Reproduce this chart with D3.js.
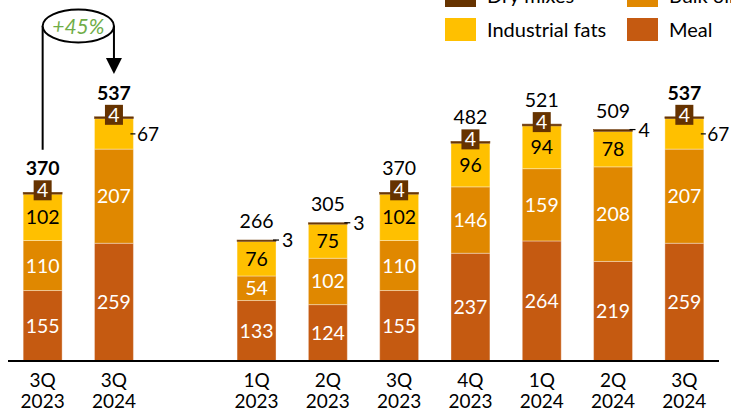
<!DOCTYPE html>
<html><head><meta charset="utf-8">
<script src="https://cdn.jsdelivr.net/npm/d3@7"></script>
<style>body{margin:0;background:#fff}svg{display:block;font-family:Lato,"Open Sans",sans-serif}</style>
</head><body><svg id="c" width="731" height="411"></svg>
<script>
// ---- data ----
const slots = ["a","b","gap","c","d","e","f","g","h","i"];
const quarters = ["3Q","3Q",null,"1Q","2Q","3Q","4Q","1Q","2Q","3Q"];
const years = ["2023","2024",null,"2023","2023","2023","2023","2024","2024","2024"];
const meal = [155,259,null,133,124,155,237,264,219,259];
const bulkOil = [110,207,null,54,102,110,146,159,208,207];
const industrialFats = [102,67,null,76,75,102,96,94,78,67];
const dryMixes = [4,4,null,3,3,4,4,4,4,4];
const totals = [370,537,null,266,305,370,482,521,509,537];
const boldTotal = [true,true,false,false,false,false,false,false,false,true];
const dryLabelBoxed = [true,true,false,false,false,true,true,true,false,true];
const fatsLabelOutside = [false,true,false,false,false,false,false,false,false,true];
const seriesNames = ["Meal","Bulk oil","Industrial fats","Dry mixes"];
const seriesColors = ["#C55A11","#E08800","#FFC000","#663300"];
const legendOrder = ["Dry mixes","Bulk oil","Industrial fats","Meal"];
const growthLabel = "+45%";

const VF = 19.5; // value font size
const svg = d3.select("#c");
const x = d3.scaleBand().domain(slots).range([7, 720]).paddingInner(0.454).paddingOuter(0.227);
const y = d3.scaleLinear().domain([0, 600]).range([361, 361 - 600 * 0.4547]);
const bw = x.bandwidth();

const rows = slots.map((s, i) => ({slot: s, i, vals: [meal[i], bulkOil[i], industrialFats[i], dryMixes[i]]}))
  .filter(r => r.vals[0] != null);

const g = svg.append("g");
rows.forEach(r => {
  let acc = 0;
  r.vals.forEach((v, k) => {
    const y0 = y(acc), y1 = y(acc + v);
    r["y" + k] = [y1, y0];
    g.append("rect")
      .attr("x", x(r.slot)).attr("width", bw)
      .attr("y", y1).attr("height", y0 - y1)
      .attr("fill", seriesColors[k])
      .attr("stroke", k === 3 ? "#7a4a1e" : "rgba(255,255,255,0.35)")
      .attr("stroke-width", k === 3 ? 0.6 : 1);
    acc += v;
  });
  r.top = y(acc);
});

// segment labels
const off = VF * 0.36;
const lbl = svg.append("g").attr("font-size", VF).attr("text-anchor", "middle");
rows.forEach(r => {
  const cx = x(r.slot) + bw / 2;
  const right = x(r.slot) + bw;
  [0, 1].forEach(k => {
    const [a, b] = r["y" + k];
    lbl.append("text").attr("x", cx).attr("y", (a + b) / 2 + off).attr("fill", "#fff").text(r.vals[k]);
  });
  // industrial fats
  const [fa, fb] = r.y2;
  if (fatsLabelOutside[r.i]) {
    const cy = (fa + fb) / 2;
    lbl.append("line").attr("x1", right - 3).attr("x2", right + 2).attr("y1", cy).attr("y2", cy).attr("stroke", "#000").attr("stroke-width", 1.2);
    lbl.append("text").attr("x", right + 3.5).attr("y", cy + off).attr("text-anchor", "start")
      .attr("font-size", 19).attr("fill", "#000").text(r.vals[2]);
  } else {
    lbl.append("text").attr("x", cx).attr("y", (fa + fb) / 2 + off).attr("fill", "#000").text(r.vals[2]);
  }
  // dry mixes
  if (dryLabelBoxed[r.i]) {
    lbl.append("rect").attr("x", cx - 9).attr("y", r.top - 12).attr("width", 18).attr("height", 20).attr("fill", seriesColors[3]);
    lbl.append("text").attr("x", cx).attr("y", r.top - 2 + off).attr("fill", "#fff").text(r.vals[3]);
  } else {
    lbl.append("line").attr("x1", right - 3).attr("x2", right + 3).attr("y1", r.top).attr("y2", r.top).attr("stroke", "#000").attr("stroke-width", 1.2);
    lbl.append("text").attr("x", right + 6).attr("y", r.top + off).attr("text-anchor", "start").attr("fill", "#000").text(r.vals[3]);
  }
  // total
  lbl.append("text").attr("x", cx).attr("y", r.top - (dryLabelBoxed[r.i] ? 17 : 12))
    .attr("font-weight", boldTotal[r.i] ? "bold" : "normal").attr("fill", "#000").text(totals[r.i]);
});

// axis
svg.append("line").attr("x1", 8).attr("x2", 719).attr("y1", 361).attr("y2", 361).attr("stroke", "#000").attr("stroke-width", 2);
const ax = svg.append("g").attr("font-size", 19).attr("text-anchor", "middle").attr("fill", "#000");
rows.forEach(r => {
  const cx = x(r.slot) + bw / 2;
  ax.append("text").attr("x", cx).attr("y", 387).text(quarters[r.i]);
  ax.append("text").attr("x", cx).attr("y", 408).text(years[r.i]);
});

// growth annotation
const xa = x(slots[0]) + bw / 2, xb = x(slots[1]) + bw / 2;
const ann = svg.append("g");
ann.append("line").attr("x1", xa).attr("x2", xa).attr("y1", 26).attr("y2", y(totals[0]) - 43).attr("stroke", "#000").attr("stroke-width", 2);
ann.append("line").attr("x1", xb).attr("x2", xb).attr("y1", 26).attr("y2", 60).attr("stroke", "#000").attr("stroke-width", 2);
ann.append("path").attr("d", `M${xb - 8},58 L${xb + 8},58 L${xb},74 Z`).attr("fill", "#000");
ann.append("ellipse").attr("cx", (xa + xb) / 2).attr("cy", 26).attr("rx", (xb - xa) / 2).attr("ry", 16.5)
  .attr("fill", "#fff").attr("stroke", "#000").attr("stroke-width", 2);
ann.append("text").attr("x", (xa + xb) / 2).attr("y", 33.5).attr("text-anchor", "middle")
  .attr("font-size", 21).attr("font-style", "italic").attr("fill", "#70AD47").text(growthLabel);

// legend
const leg = svg.append("g").attr("font-size", 20);
legendOrder.forEach((name, j) => {
  const col = j % 2, row = Math.floor(j / 2);
  const lx = col ? 627 : 445, ly = row ? 18 : -16;
  leg.append("rect").attr("x", lx).attr("y", ly).attr("width", 31).attr("height", 23)
    .attr("fill", seriesColors[seriesNames.indexOf(name)]);
  leg.append("text").attr("x", lx + 42).attr("y", ly + 19).attr("fill", "#000").text(name);
});
</script></body></html>
